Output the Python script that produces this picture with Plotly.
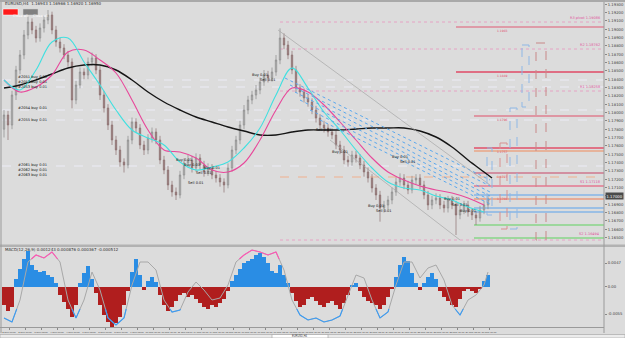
import plotly.graph_objects as go

# ---------------- DATA ----------------
closes = [1.17970,1.17850,1.18210,1.18510,1.18690,1.18930,1.19086,1.18990,1.18894,1.19014,
          1.19110,1.19170,1.18990,1.18846,1.18774,1.18690,1.18606,1.18150,1.18330,1.18486,
          1.18450,1.18606,1.18654,1.18510,1.18210,1.18054,1.17850,1.17670,1.17550,1.17406,
          1.17370,1.17670,1.17886,1.17814,1.17610,1.17550,1.17694,1.17766,1.17670,1.17430,
          1.17310,1.17130,1.17046,1.17010,1.17250,1.17394,1.17430,1.17334,1.17454,1.17370,
          1.17286,1.17334,1.17250,1.17214,1.17166,1.17130,1.17334,1.17550,1.17670,1.17850,
          1.18030,1.18150,1.18210,1.18270,1.18366,1.18450,1.18414,1.18486,1.18630,1.18894,
          1.18810,1.18690,1.18510,1.18294,1.18246,1.18174,1.18126,1.18030,1.17934,1.17850,
          1.17814,1.17766,1.17730,1.17610,1.17550,1.17430,1.17406,1.17490,1.17454,1.17370,
          1.17286,1.17214,1.17094,1.17010,1.16854,1.16890,1.16950,1.17046,1.17166,1.17214,
          1.17130,1.17070,1.17190,1.17214,1.17130,1.17010,1.16890,1.16950,1.16974,1.16890,
          1.16854,1.16950,1.16890,1.16770,1.16830,1.16890,1.16806,1.16770,1.16734,1.16830,
          1.16890,1.16960]
highs = [1.18030,1.18020,1.18260,1.18560,1.18750,1.18990,1.19150,1.19130,1.19040,1.19070,
         1.19160,1.19230,1.19210,1.19040,1.18900,1.18820,1.18740,1.18650,1.18380,1.18540,
         1.18530,1.18660,1.18720,1.18700,1.18560,1.18260,1.18100,1.17900,1.17720,1.17600,
         1.17450,1.17720,1.17940,1.17930,1.17860,1.17660,1.17740,1.17820,1.17810,1.17720,
         1.17480,1.17360,1.17180,1.17100,1.17300,1.17450,1.17490,1.17480,1.17510,1.17500,
         1.17420,1.17390,1.17380,1.17300,1.17260,1.17210,1.17390,1.17600,1.17720,1.17900,
         1.18090,1.18200,1.18260,1.18330,1.18420,1.18510,1.18500,1.18540,1.18690,1.19010,
         1.18950,1.18860,1.18740,1.18560,1.18340,1.18290,1.18220,1.18170,1.18080,1.17980,
         1.17900,1.17860,1.17810,1.17780,1.17660,1.17600,1.17480,1.17540,1.17540,1.17500,
         1.17420,1.17340,1.17260,1.17140,1.17060,1.16940,1.17000,1.17100,1.17220,1.17270,
         1.17260,1.17180,1.17240,1.17260,1.17260,1.17180,1.17060,1.17000,1.17030,1.17020,
         1.16940,1.17000,1.17000,1.16940,1.16880,1.16940,1.16940,1.16850,1.16820,1.16880,
         1.16940,1.17000]
lows = [1.17700,1.17670,1.17800,1.18150,1.18460,1.18640,1.18880,1.18940,1.18840,1.18850,
        1.18960,1.19060,1.18940,1.18790,1.18720,1.18640,1.18550,1.18050,1.18100,1.18290,
        1.18400,1.18400,1.18560,1.18460,1.18150,1.18000,1.17790,1.17610,1.17490,1.17350,
        1.17280,1.17330,1.17620,1.17760,1.17560,1.17490,1.17500,1.17640,1.17620,1.17380,
        1.17260,1.17070,1.16990,1.16950,1.16970,1.17200,1.17340,1.17280,1.17290,1.17320,
        1.17230,1.17240,1.17200,1.17160,1.17110,1.17040,1.17090,1.17290,1.17500,1.17620,
        1.17800,1.17980,1.18100,1.18160,1.18220,1.18320,1.18360,1.18370,1.18440,1.18580,
        1.18760,1.18640,1.18460,1.18240,1.18190,1.18120,1.18070,1.17980,1.17880,1.17800,
        1.17760,1.17710,1.17680,1.17560,1.17500,1.17380,1.17350,1.17360,1.17400,1.17320,
        1.17230,1.17160,1.17040,1.16950,1.16690,1.16800,1.16840,1.16900,1.17000,1.17120,
        1.17080,1.17020,1.17030,1.17140,1.17080,1.16960,1.16830,1.16840,1.16900,1.16840,
        1.16800,1.16800,1.16840,1.16530,1.16720,1.16780,1.16750,1.16710,1.16650,1.16690,
        1.16780,1.16840]
first_open = 1.17800
current_price = 1.17000

# moving averages, sampled every 4 bars
ma_idx = [0,4,8,12,16,20,24,28,32,36,40,44,48,52,56,60,64,68,72,76,80,84,88,92,96,100,104,108,112,116,120]
ma_fast = [1.18390,1.18270,1.18510,1.18846,1.18894,1.18606,1.18330,1.18030,1.17790,1.17694,
           1.17610,1.17406,1.17310,1.17346,1.17406,1.17574,1.17814,1.18210,1.18534,1.18294,
           1.18006,1.17790,1.17550,1.17334,1.17166,1.17094,1.17070,1.16998,1.16950,1.16866,1.16806]
ma_mid = [1.18390,1.18246,1.18306,1.18450,1.18726,1.18750,1.18630,1.18474,1.18150,1.17790,
          1.17550,1.17526,1.17454,1.17310,1.17286,1.17394,1.17670,1.18030,1.18294,1.18246,
          1.18090,1.17886,1.17670,1.17454,1.17286,1.17190,1.17118,1.17070,1.17034,1.16974,1.16890]
ma_slow_idx = ma_idx + [122]
ma_slow = [1.18294,1.18330,1.18390,1.18462,1.18534,1.18570,1.18570,1.18510,1.18390,1.18246,
           1.18126,1.18030,1.17946,1.17886,1.17826,1.17778,1.17730,1.17730,1.17766,1.17790,
           1.17790,1.17790,1.17802,1.17814,1.17814,1.17814,1.17778,1.17706,1.17586,1.17430,1.17286,1.17214]

# oscillator histogram (one value per bar)
hist = [-0.0036,-0.0048,-0.0040,0.0016,0.0036,0.0056,0.0072,0.0044,0.0034,0.0030,
        0.0032,0.0024,0.0020,0.0008,-0.0016,-0.0030,-0.0044,-0.0060,-0.0036,0.0008,
        0.0028,0.0042,0.0016,-0.0012,-0.0036,-0.0056,-0.0070,-0.0080,-0.0072,-0.0060,
        -0.0036,-0.0008,0.0030,0.0056,0.0024,-0.0006,0.0012,0.0020,0.0010,-0.0016,
        -0.0036,-0.0048,-0.0040,-0.0028,-0.0016,-0.0012,-0.0020,-0.0016,-0.0024,-0.0032,
        -0.0040,-0.0044,-0.0036,-0.0040,-0.0032,-0.0024,-0.0008,0.0012,0.0024,0.0036,
        0.0048,0.0052,0.0056,0.0064,0.0068,0.0060,0.0048,0.0032,0.0028,0.0044,
        0.0024,0.0008,-0.0012,-0.0028,-0.0040,-0.0036,-0.0024,-0.0020,-0.0028,-0.0036,
        -0.0040,-0.0032,-0.0028,-0.0036,-0.0044,-0.0032,-0.0016,0.0004,0.0008,-0.0008,
        -0.0020,-0.0028,-0.0032,-0.0036,-0.0044,-0.0036,-0.0020,-0.0004,0.0020,0.0044,
        0.0060,0.0052,0.0028,0.0008,-0.0006,0.0008,0.0020,0.0028,0.0016,-0.0008,
        -0.0020,-0.0028,-0.0036,-0.0040,-0.0024,-0.0008,-0.0004,-0.0008,-0.0012,-0.0004,
        0.0012,0.0024]

# oscillator signal line, sampled every 2 bars
osc_idx = [0,2,4,6,8,10,12,14,16,18,20,22,24,26,28,30,32,34,36,38,40,42,44,46,48,50,52,54,56,58,
           60,62,64,66,68,70,72,74,76,78,80,82,84,86,88,90,92,94,96,98,100,102,104,106,108,110,112,114,116,118,120,121]
osc = [-0.0063,-0.0071,-0.0027,0.0049,0.0063,0.0057,0.0069,0.0049,-0.0027,-0.0063,
       -0.0027,0.0029,-0.0007,-0.0063,-0.0077,-0.0063,0.0003,0.0049,0.0049,0.0033,
       -0.0027,-0.0051,-0.0047,-0.0011,0.0009,-0.0007,-0.0027,-0.0023,0.0003,0.0049,
       0.0063,0.0073,0.0069,0.0063,0.0069,0.0033,-0.0027,-0.0057,-0.0067,-0.0063,
       -0.0071,-0.0067,-0.0059,-0.0017,0.0023,0.0017,-0.0027,-0.0063,-0.0051,0.0003,
       0.0049,0.0049,0.0017,0.0037,0.0043,0.0013,-0.0037,-0.0057,-0.0027,-0.0017,0.0003,0.0029]
osc_upper = 0.0055
osc_lower = -0.0045

# trend lines (start index, start price, end index, end price)
trend_x0 = [70.25, 71.5, 72.75, 74.0, 76.5, 79.0]
trend_y0 = [1.18414, 1.18330, 1.18246, 1.18150, 1.18030, 1.17910]
trend_x1 = [121.5, 121.5, 121.5, 121.5, 121.5, 121.5]
trend_y1 = [1.17190, 1.17118, 1.17046, 1.16998, 1.16950, 1.16902]
gray_x0 = [68.5, 81.5]
gray_y0 = [1.18990, 1.17670]
gray_x1 = [121.5, 114.0]
gray_y1 = [1.17130, 1.16470]

# horizontal levels
level_price = [1.19086,1.19026,1.18762,1.18486,1.18390,1.18306,1.18258,1.18030,1.17958,1.17910,
               1.17574,1.17538,1.17358,1.17274,1.17226,1.17118,1.17010,1.16962,1.16854,1.16806,
               1.16650,1.16494,1.16470]
level_start = [69,113,69,113,-0.5,-0.5,69,-0.5,117.5,-0.5,
               117.5,117.5,-0.5,117.5,69,117.5,117.5,117.5,117.5,117.5,
               117.5,117.5,69]
level_color = ["#e994be","#e05a74","#e994be","#e04a66","#ececf6","#ececf6","#e994be","#ececf6","#e0506a","#ececf6",
               "#e2506a","#f08a5a","#ececf6","#c84466","#f0b08e","#e8466a","#5aa2ec","#f07a50","#5aa2ec","#5aa2ec",
               "#5ed25e","#5ed25e","#e994be"]
level_dash = ["dot","solid","dot","solid","dash","dash","dot","dash","solid","dash",
              "solid","solid","dash","solid","dash","solid","solid","solid","solid","solid",
              "solid","solid","dot"]
level_width = [0.8,1.2,0.8,1.6,1,1,0.8,1,1.2,1,1.4,1.2,1,1.2,1,1.2,1.2,1.2,1.2,1.2,1.2,1.2,0.8]

# dashed projection boxes (x0, x1 in bar index, y0, y1 price)
box_x0 = [129.5, 133.0, 126.5, 124.0, 120.75]
box_x1 = [131.25, 135.5, 128.25, 125.75, 122.0]
box_y0 = [1.18810, 1.18834, 1.18054, 1.17634, 1.17574]
box_y1 = [1.18066, 1.16470, 1.16602, 1.16602, 1.16770]
box_color = ["#8fb8e6", "#c88888", "#8fb8e6", "#d89090", "#8fb8e6"]

price_ticks = [1.165,1.166,1.167,1.168,1.169,1.170,1.171,1.172,1.173,1.174,1.175,1.176,1.177,1.178,
               1.179,1.180,1.181,1.182,1.183,1.184,1.185,1.186,1.187,1.188,1.189,1.190,1.191,1.192,1.193]
osc_ticks = [0.0047, 0.0, -0.0055]
osc_tick_text = ["0.0047", "0.00", "-0.0055"]
date_ticks = [1.25,5.25,9.25,13.25,17.25,21.25,25.25,29.25,33.25,37.25,41.25,45.25,49.25,53.25,57.25,61.25,
              65.25,69.25,73.25,77.25,81.25,85.25,89.25,93.25,97.25,101.25,105.25,109.25,113.25,117.25,121.25]
date_labels = ["2 Sep 00:00","2 Sep 16:00","3 Sep 08:00","4 Sep 00:00","4 Sep 16:00","7 Sep 08:00",
               "8 Sep 00:00","8 Sep 16:00","9 Sep 08:00","10 Sep 00:00","10 Sep 16:00","11 Sep 08:00",
               "14 Sep 00:00","14 Sep 16:00","15 Sep 08:00","16 Sep 00:00","16 Sep 16:00","17 Sep 08:00",
               "18 Sep 00:00","18 Sep 16:00","21 Sep 08:00","22 Sep 00:00","22 Sep 16:00","23 Sep 08:00",
               "24 Sep 00:00","24 Sep 16:00","25 Sep 08:00","28 Sep 00:00","28 Sep 16:00","29 Sep 08:00","30 Sep 00:00"]

# trade labels (bar index, price, text)
trade_x = [3, 3, 3, 3, 3, 3, 3, 3, 45, 47, 50, 52, 48, 64, 66, 80, 84, 93, 95, 99, 101, 112, 114, 116]
trade_y = [1.18426, 1.18366, 1.18306, 1.18054, 1.17910, 1.17370, 1.17310, 1.17250, 1.17430, 1.17370,
           1.17280, 1.17340, 1.17150, 1.18450, 1.18390, 1.17790, 1.17530, 1.16880, 1.16820, 1.17470,
           1.17410, 1.16960, 1.16890, 1.16820]
trade_text = ["#2051 buy 0.01","#2052 buy 0.01","#2053 buy 0.01","#2054 buy 0.01","#2055 buy 0.01",
              "#2061 buy 0.01","#2062 buy 0.01","#2063 buy 0.01","Buy 0.01","Buy 0.01","Sell 0.01",
              "Buy 0.01","Sell 0.01","Buy 0.01","Sell 0.01","Sell 0.01","Buy 0.01","Buy 0.01","Sell 0.01",
              "Buy 0.01","Sell 0.01","Buy 0.01","Sell 0.01","Buy 0.01"]

# ---------------- FIGURE ----------------
W, H = 625, 338
opens = [first_open] + closes[:-1]
bars = list(range(len(closes)))
FONT = "DejaVu Sans"
NARROW = "Liberation Sans"
BG = "#dcdcdc"

fig = go.Figure()
fig.add_trace(go.Candlestick(
    x=bars, open=opens, high=highs, low=lows, close=closes, xaxis="x", yaxis="y",
    increasing=dict(line=dict(color="#8a8a8a", width=0.7), fillcolor="#b8b8b8"),
    decreasing=dict(line=dict(color="#8c7070", width=0.7), fillcolor="#927474"),
    whiskerwidth=0, showlegend=False, hoverinfo="skip"))

fig.add_trace(go.Scatter(x=ma_slow_idx, y=ma_slow, mode="lines", line=dict(color="#151515", width=1.4, shape="spline"),
                         xaxis="x", yaxis="y", showlegend=False, hoverinfo="skip"))
fig.add_trace(go.Scatter(x=ma_idx, y=ma_mid, mode="lines", line=dict(color="#e8479a", width=1.1, shape="spline"),
                         xaxis="x", yaxis="y", showlegend=False, hoverinfo="skip"))
fig.add_trace(go.Scatter(x=ma_idx, y=ma_fast, mode="lines", line=dict(color="#3fe0e0", width=1.1, shape="spline"),
                         xaxis="x", yaxis="y", showlegend=False, hoverinfo="skip"))

# histogram
hist_colors = ["#2a8de4" if v >= 0 else "#b01e1e" for v in hist]
fig.add_trace(go.Bar(x=bars[:len(hist)], y=hist, marker=dict(color=hist_colors, line=dict(width=0)), width=1.0,
                     xaxis="x", yaxis="y2", showlegend=False, hoverinfo="skip"))


def up_test(v):
    return v > osc_upper


def dn_test(v):
    return v < osc_lower


def split_segments(xs, ys, test, thr):
    segs, cur = [], []
    for k in range(len(xs)):
        inside = test(ys[k])
        if k > 0:
            prev_in = test(ys[k - 1])
            if inside != prev_in:
                t = (thr - ys[k - 1]) / (ys[k] - ys[k - 1])
                xc = xs[k - 1] + t * (xs[k] - xs[k - 1])
                if prev_in:
                    cur.append((xc, thr))
                    segs.append(cur)
                    cur = []
                else:
                    cur = [(xc, thr)]
        if inside:
            cur.append((xs[k], ys[k]))
    if cur:
        segs.append(cur)
    return segs


fig.add_trace(go.Scatter(x=osc_idx, y=osc, mode="lines", line=dict(color="#a8a8a8", width=1),
                         xaxis="x", yaxis="y2", showlegend=False, hoverinfo="skip"))
for test, thr, col in ((up_test, osc_upper, "#ff55b4"), (dn_test, osc_lower, "#3a9cf5")):
    for seg in split_segments(osc_idx, osc, test, thr):
        fig.add_trace(go.Scatter(x=[p[0] for p in seg], y=[p[1] for p in seg], mode="lines",
                                 line=dict(color=col, width=1.1), xaxis="x", yaxis="y2",
                                 showlegend=False, hoverinfo="skip"))

shapes = []
XEND = 150
for p, s, c, d, w in zip(level_price, level_start, level_color, level_dash, level_width):
    shapes.append(dict(type="line", xref="x", yref="y", x0=s, x1=XEND, y0=p, y1=p,
                       line=dict(color=c, width=w, dash=d), layer="below"))
for a, b, c, d in zip(trend_x0, trend_y0, trend_x1, trend_y1):
    shapes.append(dict(type="line", xref="x", yref="y", x0=a, y0=b, x1=c, y1=d,
                       line=dict(color="#5aa8ee", width=1, dash="dot")))
for a, b, c, d in zip(gray_x0, gray_y0, gray_x1, gray_y1):
    shapes.append(dict(type="line", xref="x", yref="y", x0=a, y0=b, x1=c, y1=d,
                       line=dict(color="#a6a6a6", width=0.7)))
for a, b, c, d, col in zip(box_x0, box_x1, box_y0, box_y1, box_color):
    shapes.append(dict(type="rect", xref="x", yref="y", x0=a, x1=b, y0=c, y1=d,
                       line=dict(color=col, width=1, dash="dash")))


def py(pix):
    return 1 - pix / H


def px(pix):
    return pix / W


shapes += [
    dict(type="rect", xref="paper", yref="paper", x0=0, x1=1, y0=py(2), y1=1, fillcolor="#a9a9a9", line=dict(width=0)),
    dict(type="rect", xref="paper", yref="paper", x0=0, x1=1, y0=py(247), y1=py(244.5), fillcolor="#b2b2b2", line=dict(width=0)),
    dict(type="line", xref="paper", yref="paper", x0=px(604), x1=px(604), y0=py(333), y1=py(2), line=dict(color="#9a9a9a", width=1)),
    dict(type="line", xref="paper", yref="paper", x0=px(1), x1=px(1), y0=py(333), y1=py(2), line=dict(color="#9a9a9a", width=1)),
    dict(type="line", xref="paper", yref="paper", x0=0, x1=px(604), y0=py(327.5), y1=py(327.5), line=dict(color="#9a9a9a", width=1)),
    dict(type="rect", xref="paper", yref="paper", x0=0, x1=1, y0=0, y1=py(334.5), fillcolor="#ececec", line=dict(color="#a0a0a0", width=0.6)),
    dict(type="rect", xref="paper", yref="paper", x0=px(272), x1=px(328), y0=0, y1=py(334.5), fillcolor="#ffffff", line=dict(color="#a0a0a0", width=0.6)),
    dict(type="rect", xref="paper", yref="paper", x0=px(3), x1=px(18), y0=py(15), y1=py(9), fillcolor="#ff1a1a", line=dict(color="#ffffff", width=0.5)),
    dict(type="rect", xref="paper", yref="paper", x0=px(23), x1=px(38), y0=py(15), y1=py(9), fillcolor="#808080", line=dict(color="#d0d0d0", width=0.5)),
]

annotations = [
    dict(text="EURUSD,H4  1.16943 1.16966 1.16920 1.16950", xref="paper", yref="paper", x=px(3), y=py(3.8),
         xanchor="left", yanchor="middle", showarrow=False, font=dict(family=FONT, size=4, color="#303030")),
    dict(text="Close all", xref="paper", yref="paper", x=px(10.5), y=py(12), showarrow=False,
         font=dict(family=FONT, size=3.5, color="#ffffff")),
    dict(text="Close all", xref="paper", yref="paper", x=px(30.5), y=py(12), showarrow=False,
         font=dict(family=FONT, size=3.5, color="#ffffff")),
    dict(text="MACD(12,26,9) 0.001243 0.000876 0.000367 -0.000512", xref="paper", yref="paper", x=px(3), y=py(249.5),
         xanchor="left", yanchor="middle", showarrow=False, font=dict(family=FONT, size=4, color="#303030")),
    dict(text="%.5f" % current_price, xref="paper", yref="y", x=px(605), y=current_price, xanchor="left", yanchor="middle",
         showarrow=False, bgcolor="#4a4a4a", borderpad=0.5, font=dict(family=FONT, size=3.8, color="#ffffff")),
    dict(text="EURUSD,H4", xref="paper", yref="paper", x=px(300), y=py(336.3), showarrow=False, yanchor="middle",
         font=dict(family=NARROW, size=2.6, color="#303030")),
]
for p, txt in ((1.19086, "R3 pivot 1.19086"), (1.18762, "R2 1.18762"), (1.18258, "R1 1.18258"),
               (1.17118, "S1 1.17118"), (1.16494, "S2 1.16494")):
    annotations.append(dict(text=txt, xref="paper", yref="y", x=px(602), y=p, xanchor="right", yanchor="bottom",
                            showarrow=False, font=dict(family=FONT, size=3.5, color="#e0509a")))
for p in (1.19026, 1.18486, 1.17958, 1.17574, 1.17274, 1.17010):
    annotations.append(dict(text="%.4f" % p, xref="x", yref="y", x=124.5, y=p, xanchor="center", yanchor="top",
                            showarrow=False, font=dict(family=FONT, size=3, color="#e05070")))
for x, y, t in zip(trade_x, trade_y, trade_text):
    annotations.append(dict(text=t, xref="x", yref="y", x=x, y=y, xanchor="left" if x < 10 else "center",
                            yanchor="middle", showarrow=False, font=dict(family=FONT, size=3.6, color="#101010")))

# price axis labels (the current price box covers its own tick)
price_tick_text = ["" if abs(v - current_price) < 1e-9 else "%.5f" % v for v in price_ticks]

fig.update_layout(
    width=W, height=H, margin=dict(l=0, r=0, t=0, b=0),
    paper_bgcolor=BG, plot_bgcolor=BG, bargap=0, boxgap=0.5, showlegend=False,
    shapes=shapes, annotations=annotations,
    xaxis=dict(domain=[px(2), px(604)], range=[-0.5, XEND], anchor="y2", tickvals=date_ticks, ticktext=date_labels,
               tickangle=0, tickfont=dict(family=NARROW, size=2.5, color="#404040"), ticks="outside", ticklen=1.5,
               tickcolor="#888", showgrid=False, zeroline=False, rangeslider=dict(visible=False), fixedrange=True),
    yaxis=dict(domain=[py(244), py(2)], range=[1.16422, 1.19326], side="right", anchor="x",
               tickvals=price_ticks, ticktext=price_tick_text,
               tickfont=dict(family=FONT, size=3.8, color="#404040"), ticks="outside", ticklen=2, tickcolor="#888",
               showgrid=False, zeroline=False),
    yaxis2=dict(domain=[py(327), py(247)], range=[-0.0081, 0.0079], side="right", anchor="x",
                tickvals=osc_ticks, ticktext=osc_tick_text,
                tickfont=dict(family=FONT, size=3.8, color="#404040"), ticks="outside", ticklen=2, tickcolor="#888",
                showgrid=False, zeroline=False),
)

fig.write_html("out.html")
